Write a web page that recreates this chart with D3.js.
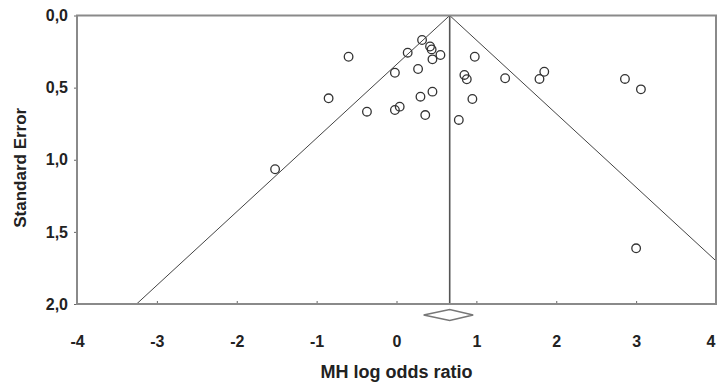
<!DOCTYPE html>
<html>
<head>
<meta charset="utf-8">
<script src="https://d3js.org/d3.v7.min.js"></script>
<style>
  body { margin: 0; background: #fff; }
  svg { display: block; }
  text { font-family: "Liberation Sans", Arial, sans-serif; font-weight: bold; fill: #222; }
</style>
</head>
<body>
<script>
// study effects (MH log odds ratio) and their standard errors
const logOdds = [-1.52, -0.85, -0.60, -0.37, -0.02, -0.02, 0.04, 0.14, 0.27, 0.30,
                 0.32, 0.36, 0.42, 0.44, 0.55, 0.45, 0.45, 0.78, 0.85, 0.88,
                 0.95, 0.98, 1.36, 1.79, 1.85, 2.86, 3.06, 3.00];
const stdErr  = [1.066, 0.574, 0.286, 0.667, 0.397, 0.655, 0.632, 0.258, 0.371, 0.563,
                 0.170, 0.690, 0.215, 0.235, 0.274, 0.304, 0.528, 0.724, 0.412, 0.442,
                 0.579, 0.286, 0.435, 0.440, 0.390, 0.440, 0.512, 1.614];
const pooled = 0.666;
const pooledCI = [0.34, 0.96];
const xTicks = [-4, -3, -2, -1, 0, 1, 2, 3, 4];
const yTicks = [0, 0.5, 1, 1.5, 2];

const width = 718, height = 383;
const margin = { top: 15.5, right: 2, bottom: 79, left: 77 };

const svg = d3.select('body').append('svg')
    .attr('width', width)
    .attr('height', height);

const x = d3.scaleLinear().domain([-4, 4]).range([margin.left, width - margin.right]);
const y = d3.scaleLinear().domain([0, 2]).range([margin.top, height - margin.bottom]);

svg.append('clipPath').attr('id', 'plot')
  .append('rect')
    .attr('x', x(-4)).attr('y', y(0))
    .attr('width', x(4) - x(-4)).attr('height', y(2) - y(0));

// funnel (pseudo 95% limits) and pooled estimate line
const g = svg.append('g').attr('clip-path', 'url(#plot)');
[-1.96, 1.96].forEach(z => {
  g.append('line')
      .attr('x1', x(pooled)).attr('y1', y(0))
      .attr('x2', x(pooled + z * 2)).attr('y2', y(2))
      .attr('stroke', '#444').attr('stroke-width', 1);
});
g.append('line')
    .attr('x1', x(pooled)).attr('y1', y(0))
    .attr('x2', x(pooled)).attr('y2', y(2))
    .attr('stroke', '#555').attr('stroke-width', 1.6);

// axes
const fmt = d => d3.format('.1f')(d).replace('.', ',');

const xAxis = svg.append('g')
    .attr('transform', `translate(0,${y(2)})`)
    .call(d3.axisBottom(x).tickValues(xTicks).tickSize(-3).tickPadding(32).tickFormat(d => String(d)));

const yAxis = svg.append('g')
    .attr('transform', `translate(${x(-4)},0)`)
    .call(d3.axisLeft(y).tickValues(yTicks).tickSize(3).tickPadding(6).tickFormat(fmt));

[xAxis, yAxis].forEach(a => {
  a.select('.domain').remove();
  a.selectAll('.tick line').attr('stroke', '#666');
  a.selectAll('text').style('font-size', '16px').attr('fill', '#222');
});
// keep the last label inside the window
xAxis.selectAll('.tick text').filter(d => d === 4).attr('text-anchor', 'end').attr('dx', -1);

// frame
svg.append('rect')
    .attr('x', x(-4)).attr('y', y(0))
    .attr('width', x(4) - x(-4)).attr('height', y(2) - y(0))
    .attr('fill', 'none').attr('stroke', '#8a8a8a').attr('stroke-width', 2);

// studies
svg.append('g').selectAll('circle')
  .data(logOdds.map((d, i) => [d, stdErr[i]]))
  .join('circle')
    .attr('cx', d => x(d[0]))
    .attr('cy', d => y(d[1]))
    .attr('r', 4.3)
    .attr('fill', 'none')
    .attr('stroke', '#333')
    .attr('stroke-width', 1.3);

// pooled estimate diamond
const dy = y(2) + 11;
svg.append('path')
    .attr('d', `M${x(pooledCI[0])},${dy} L${x(pooled)},${dy - 5.5} L${x(pooledCI[1])},${dy} L${x(pooled)},${dy + 5.5} Z`)
    .attr('fill', 'none').attr('stroke', '#777').attr('stroke-width', 1.5);

// titles
svg.append('text')
    .attr('x', x(0)).attr('y', 378)
    .attr('text-anchor', 'middle')
    .style('font-size', '18px')
    .text('MH log odds ratio');

svg.append('text')
    .attr('transform', `translate(26,${(y(0) + y(2)) / 2 + 8}) rotate(-90)`)
    .attr('text-anchor', 'middle')
    .style('font-size', '17px')
    .text('Standard Error');
</script>
</body>
</html>
